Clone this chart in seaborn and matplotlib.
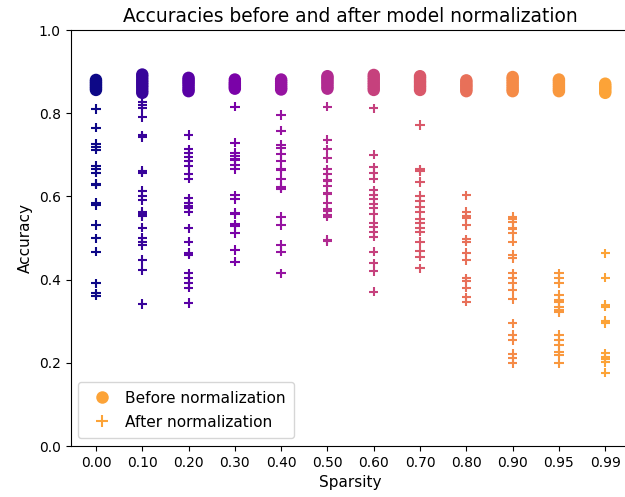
import matplotlib
matplotlib.use("Agg")
import matplotlib.pyplot as plt
from matplotlib.lines import Line2D
import numpy as np
import pandas as pd
import seaborn as sns

# Sparsity levels (tick labels) and their numeric values used for colouring
sparsity_labels = ["0.00", "0.10", "0.20", "0.30", "0.40", "0.50",
                   "0.60", "0.70", "0.80", "0.90", "0.95", "0.99"]
sparsity_values = [0.00, 0.10, 0.20, 0.30, 0.40, 0.50,
                   0.60, 0.70, 0.80, 0.90, 0.95, 0.99]

# Accuracy of each run before model normalization
acc_before = [
    [0.856, 0.860, 0.864, 0.868, 0.872, 0.876, 0.880],
    [0.849, 0.855, 0.862, 0.868, 0.874, 0.880, 0.887, 0.893],
    [0.853, 0.858, 0.864, 0.870, 0.875, 0.880, 0.885],
    [0.859, 0.863, 0.867, 0.871, 0.875, 0.881],
    [0.857, 0.861, 0.866, 0.871, 0.876, 0.881],
    [0.859, 0.864, 0.870, 0.875, 0.880, 0.885, 0.889],
    [0.856, 0.862, 0.868, 0.874, 0.880, 0.886, 0.892],
    [0.856, 0.862, 0.867, 0.873, 0.878, 0.884, 0.889],
    [0.853, 0.857, 0.862, 0.866, 0.870, 0.875, 0.879],
    [0.853, 0.858, 0.864, 0.870, 0.876, 0.882, 0.887],
    [0.853, 0.857, 0.862, 0.867, 0.872, 0.877, 0.881],
    [0.849, 0.853, 0.858, 0.862, 0.866, 0.871],
]

# Accuracy of each run after model normalization
acc_after = [
    [0.810, 0.765, 0.726, 0.718, 0.712, 0.673, 0.665, 0.657, 0.631, 0.628,
     0.585, 0.579, 0.531, 0.499, 0.467, 0.391, 0.367, 0.361],
    [0.828, 0.820, 0.812, 0.790, 0.747, 0.743, 0.661, 0.657, 0.614, 0.601,
     0.591, 0.563, 0.557, 0.553, 0.525, 0.501, 0.491, 0.483, 0.447, 0.423, 0.341],
    [0.748, 0.713, 0.704, 0.694, 0.684, 0.673, 0.655, 0.643, 0.595, 0.583,
     0.578, 0.573, 0.563, 0.523, 0.491, 0.464, 0.460, 0.415, 0.403, 0.393,
     0.381, 0.344],
    [0.816, 0.729, 0.705, 0.697, 0.691, 0.687, 0.675, 0.665, 0.603, 0.593,
     0.561, 0.557, 0.533, 0.529, 0.511, 0.471, 0.443],
    [0.796, 0.758, 0.724, 0.716, 0.702, 0.686, 0.667, 0.663, 0.641, 0.623,
     0.619, 0.551, 0.531, 0.483, 0.467, 0.415],
    [0.816, 0.736, 0.713, 0.692, 0.665, 0.654, 0.640, 0.636, 0.625, 0.609,
     0.605, 0.585, 0.569, 0.565, 0.555, 0.551, 0.496, 0.492],
    [0.812, 0.700, 0.670, 0.657, 0.643, 0.615, 0.603, 0.593, 0.582, 0.571,
     0.558, 0.537, 0.527, 0.515, 0.503, 0.467, 0.439, 0.421, 0.371],
    [0.772, 0.665, 0.661, 0.635, 0.601, 0.590, 0.575, 0.563, 0.545, 0.535,
     0.525, 0.515, 0.491, 0.469, 0.455, 0.427],
    [0.603, 0.563, 0.553, 0.547, 0.531, 0.497, 0.491, 0.465, 0.447, 0.403,
     0.397, 0.381, 0.357, 0.347],
    [0.551, 0.545, 0.539, 0.525, 0.521, 0.511, 0.491, 0.459, 0.451, 0.415,
     0.403, 0.391, 0.375, 0.353, 0.295, 0.267, 0.255, 0.221, 0.211, 0.199],
    [0.415, 0.403, 0.391, 0.363, 0.351, 0.347, 0.333, 0.327, 0.321, 0.267,
     0.255, 0.243, 0.227, 0.219, 0.199],
    [0.463, 0.405, 0.339, 0.335, 0.301, 0.295, 0.223, 0.215, 0.208, 0.201, 0.176],
]


def long_table(groups):
    rows = []
    for label, value, accs in zip(sparsity_labels, sparsity_values, groups):
        for a in accs:
            rows.append({"Sparsity": label, "level": value, "Accuracy": a})
    return pd.DataFrame(rows)


df_before = long_table(acc_before)
df_after = long_table(acc_after)

hue_norm = (0.0, 1.25)
cmap = plt.get_cmap("plasma")

fig = plt.figure(figsize=(6.25, 4.97), dpi=100)
ax = fig.add_axes([0.1128, 0.1026, 0.8963, 0.8370])

sns.scatterplot(data=df_before, x="Sparsity", y="Accuracy", hue="level",
                palette="plasma", hue_norm=hue_norm, marker="o", s=80,
                linewidth=0, legend=False, ax=ax)
sns.scatterplot(data=df_after, x="Sparsity", y="Accuracy", hue="level",
                palette="plasma", hue_norm=hue_norm, marker="+", s=45,
                linewidth=1.5, legend=False, ax=ax)

ax.set_xlim(-0.55, len(sparsity_labels) - 1 + 0.55)
ax.set_ylim(0.0, 1.0)
ax.tick_params(labelsize=10)
ax.set_xlabel("Sparsity", fontsize=11)
ax.set_ylabel("Accuracy", fontsize=11)
ax.set_title("Accuracies before and after model normalization", fontsize=13.4)

legend_color = cmap((sparsity_values[-1] - hue_norm[0]) / (hue_norm[1] - hue_norm[0]))
handles = [
    Line2D([], [], ls="", marker="o", markersize=9, color=legend_color,
           markeredgewidth=0),
    Line2D([], [], ls="", marker="+", markersize=8, color=legend_color,
           markeredgewidth=1.5),
]
ax.legend(handles, ["Before normalization", "After normalization"],
          loc="lower left", fontsize=11.1, borderpad=0.55, labelspacing=0.6,
          handletextpad=0.5)

fig.savefig("out.png", dpi=100)
